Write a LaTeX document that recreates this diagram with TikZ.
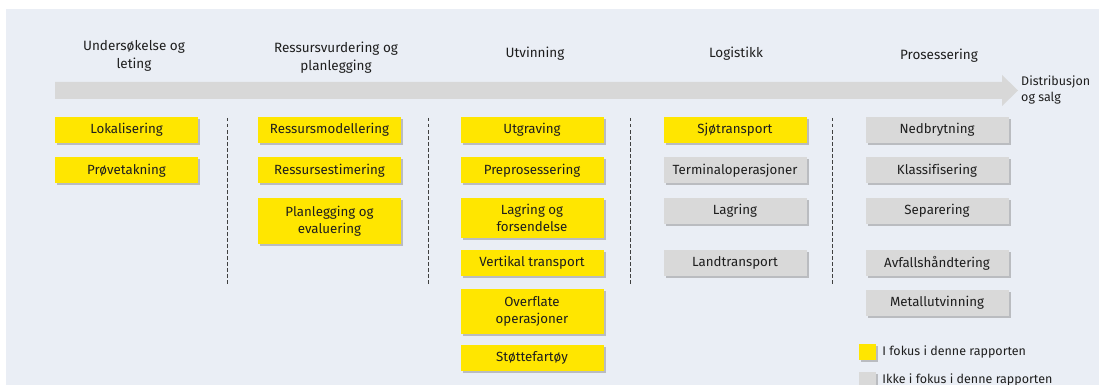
\documentclass[tikz,border=0pt]{standalone}
\usepackage{fontspec}
\setmainfont{Fira Sans}[Ligatures=NoCommon]
\usetikzlibrary{positioning,shadows}

\definecolor{eyyellow}{RGB}{255,230,0}
\definecolor{boxgrey}{RGB}{217,217,217}
\definecolor{bandgrey}{RGB}{216,216,216}
\definecolor{bgblue}{RGB}{234,238,245}
\definecolor{txtdark}{RGB}{30,30,30}

\tikzset{
	boxshadow/.style={drop shadow={shadow xshift=2pt, shadow yshift=-2pt, opacity=.5, fill=black!45}},
	infocus/.style={boxshadow, fill=eyyellow, minimum width=143pt, minimum height=26pt,
		inner sep=2pt, align=center, text=txtdark, font=\fontsize{13.3}{17}\selectfont},
	outfocus/.style={infocus, fill=boxgrey},
	phasehead/.style={align=center, text=txtdark, font=\fontsize{13.5}{18}\selectfont},
	divider/.style={line width=1pt, black!75, dash pattern=on 3.5pt off 2.5pt},
	legsq/.style={boxshadow, minimum width=17pt, minimum height=16pt, inner sep=0pt},
	legtext/.style={inner sep=0pt, anchor=west, text=txtdark, font=\fontsize{12.5}{16}\selectfont},
}

\begin{document}
\begin{tikzpicture}[x=1pt, y=-1pt]
	\useasboundingbox (0,0) rectangle (1118,385);
	\clip (0,0) rectangle (1118,385);
	\fill[bgblue] (6,9) rectangle (1099,390);

	\fill[bandgrey] (55,82) -- (1002,82) -- (1002,75) -- (1018,90.5) -- (1002,106)
		-- (1002,99) -- (55,99) -- cycle;

	\node[phasehead] (hunder) at (134,56) {Undersøkelse og\\leting};
	\node[phasehead] (hress) at (336,58) {Ressursvurdering og\\planlegging};
	\node[phasehead] (hutv) at (535,54) {Utvinning};
	\node[phasehead] (hlog) at (736,54) {Logistikk};
	\node[phasehead] (hpros) at (939,56) {Prosessering};
	\node[phasehead, align=left, anchor=west, inner sep=0pt, font=\fontsize{12.5}{16}\selectfont]
		(distr) at (1021,90) {Distribusjon\\og salg};

	\node[infocus] (lok) at (126.5,130) {Lokalisering};
	\node[infocus, below=14pt of lok] (prove) {Prøvetakning};

	\node[infocus] (rmod) at (329.5,130) {Ressursmodellering};
	\node[infocus, below=14pt of rmod] (rest) {Ressursestimering};
	\node[infocus, below=14pt of rest, minimum height=46pt] (plan) {Planlegging og\\evaluering};

	\node[infocus] (utgr) at (532,130) {Utgraving};
	\node[infocus, below=14pt of utgr] (prep) {Preprosessering};
	\node[infocus, below=14pt of prep, minimum height=40pt] (lagfors) {Lagring og\\forsendelse};
	\node[infocus, below=12pt of lagfors] (vert) {Vertikal transport};
	\node[infocus, below=12pt of vert, minimum height=45pt] (overfl) {Overflate\\operasjoner};
	\node[infocus, below=11pt of overfl] (stotte) {Støttefartøy};

	\node[infocus] (sjo) at (735,130) {Sjøtransport};
	\node[outfocus, below=14pt of sjo] (term) {Terminaloperasjoner};
	\node[outfocus, below=14pt of term] (lag) {Lagring};
	\node[outfocus, below=26pt of lag] (land) {Landtransport};

	\node[outfocus] (nedbr) at (937,130) {Nedbrytning};
	\node[outfocus, below=14pt of nedbr] (klass) {Klassifisering};
	\node[outfocus, below=14pt of klass] (separ) {Separering};
	\node[outfocus, below=26pt of separ] (avf) {Avfallshåndtering};
	\node[outfocus, below=13pt of avf] (metall) {Metallutvinning};

	\foreach \dx in {227,428,630,832}
		\draw[divider] (\dx,118) -- (\dx,285);

	\node[legsq, fill=eyyellow] (legin) at (867.5,352) {};
	\node[legtext, right=6pt of legin] (legintxt) {I fokus i denne rapporten};
	\node[legsq, fill=boxgrey] (legout) at (867.5,380) {};
	\node[legtext, right=6pt of legout] (legouttxt) {Ikke i fokus i denne rapporten};
\end{tikzpicture}
\end{document}
